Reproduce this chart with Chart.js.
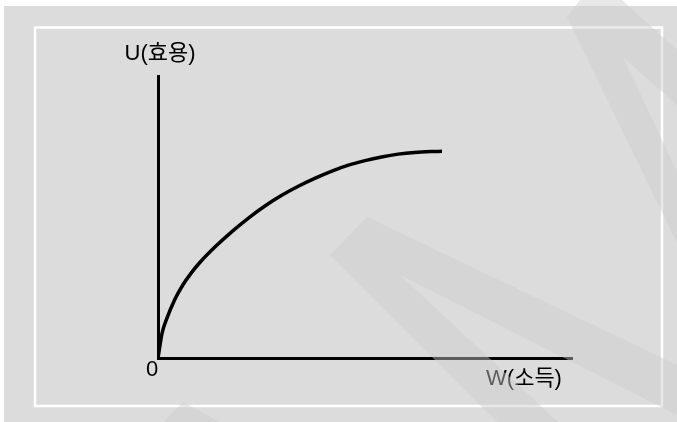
<!DOCTYPE html>
<html>
<head>
<meta charset="utf-8">
<script src="https://cdn.jsdelivr.net/npm/chart.js@4.4.0/dist/chart.umd.min.js"></script>
<style>
  html, body { margin: 0; padding: 0; background: #fff; }
  #wrap { width: 677px; height: 422px; }
</style>
</head>
<body>
<div id="wrap"><canvas id="utilChart" width="677" height="422"></canvas></div>
<script>
// values (W = income, U = utility), axes run 0..100
const incomeW = [0, 1, 2, 4, 6, 8, 10, 14, 18, 22, 26, 30, 34, 38, 42, 46, 50, 54, 58, 62, 66, 68.6];
const utilityU = [0, 8.9, 13.5, 20.6, 25.9, 30.1, 33.7, 39.7, 45.0, 49.8, 54.1, 57.8, 61.0, 63.8, 66.3, 68.4, 70.0, 71.3, 72.3, 72.9, 73.2, 73.3];
const yLabel = 'U(효용)';
const xLabel = 'W(소득)';
const originLabel = '0';

const labelFont = '22px "Liberation Sans", "Noto Sans CJK KR", sans-serif';

// watermark stripes laid over the picture
const stripes = [
  [[330, 255], [367, 217], [677, 365], [677, 415], [400, 275], [558, 422], [497, 422]],
  [[580, 0], [622, 0], [677, 50], [677, 105], [623, 57], [677, 172], [677, 243], [567, 17]],
  [[163, 422], [183, 402], [220, 422]]
];

const backdrop = {
  id: 'backdrop',
  beforeDraw(chart) {
    const ctx = chart.ctx;
    ctx.save();
    ctx.fillStyle = '#ffffff';
    ctx.fillRect(0, 0, chart.width, chart.height);
    ctx.fillStyle = '#dcdcdc';
    ctx.fillRect(4, 6, chart.width - 4, chart.height - 6);
    ctx.strokeStyle = '#ffffff';
    ctx.lineWidth = 2.5;
    ctx.strokeRect(35, 27.5, 627, 378.5);
    ctx.restore();
  },
  afterDraw(chart) {
    const ctx = chart.ctx;
    const x = chart.scales.x, y = chart.scales.y;
    const x0 = x.getPixelForValue(0), y0 = y.getPixelForValue(0);
    ctx.save();
    ctx.font = labelFont;
    ctx.textAlign = 'center';
    ctx.textBaseline = 'middle';
    ctx.fillStyle = '#000';
    ctx.fillText(yLabel, x0 + 2, y.top - 22);
    ctx.fillText(originLabel, x0 - 6, y0 + 12);
    ctx.fillText(xLabel, x.right - 48, y0 + 21);

    ctx.fillStyle = 'rgba(205,205,205,0.45)';
    stripes.forEach(function (poly) {
      ctx.beginPath();
      poly.forEach(function (pt, i) {
        if (i === 0) ctx.moveTo(pt[0], pt[1]); else ctx.lineTo(pt[0], pt[1]);
      });
      ctx.closePath();
      ctx.fill();
    });
    ctx.restore();
  }
};

new Chart(document.getElementById('utilChart').getContext('2d'), {
  type: 'scatter',
  data: {
    datasets: [{
      data: incomeW.map(function (w, i) { return { x: w, y: utilityU[i] }; }),
      showLine: true,
      borderColor: '#000',
      borderWidth: 3.5,
      borderCapStyle: 'butt',
      cubicInterpolationMode: 'monotone',
      pointRadius: 0,
      fill: false
    }]
  },
  options: {
    responsive: false,
    animation: false,
    devicePixelRatio: 1,
    layout: { padding: { left: 158, right: 105, top: 76, bottom: 64 } },
    plugins: { legend: { display: false }, tooltip: { enabled: false } },
    scales: {
      x: {
        type: 'linear', min: 0, max: 100,
        grid: { display: false, drawTicks: false },
        border: { display: true, color: '#000', width: 3 },
        ticks: { display: false }
      },
      y: {
        type: 'linear', min: 0, max: 100,
        grid: { display: false, drawTicks: false },
        border: { display: true, color: '#000', width: 3 },
        ticks: { display: false }
      }
    }
  },
  plugins: [backdrop]
});
</script>
</body>
</html>
